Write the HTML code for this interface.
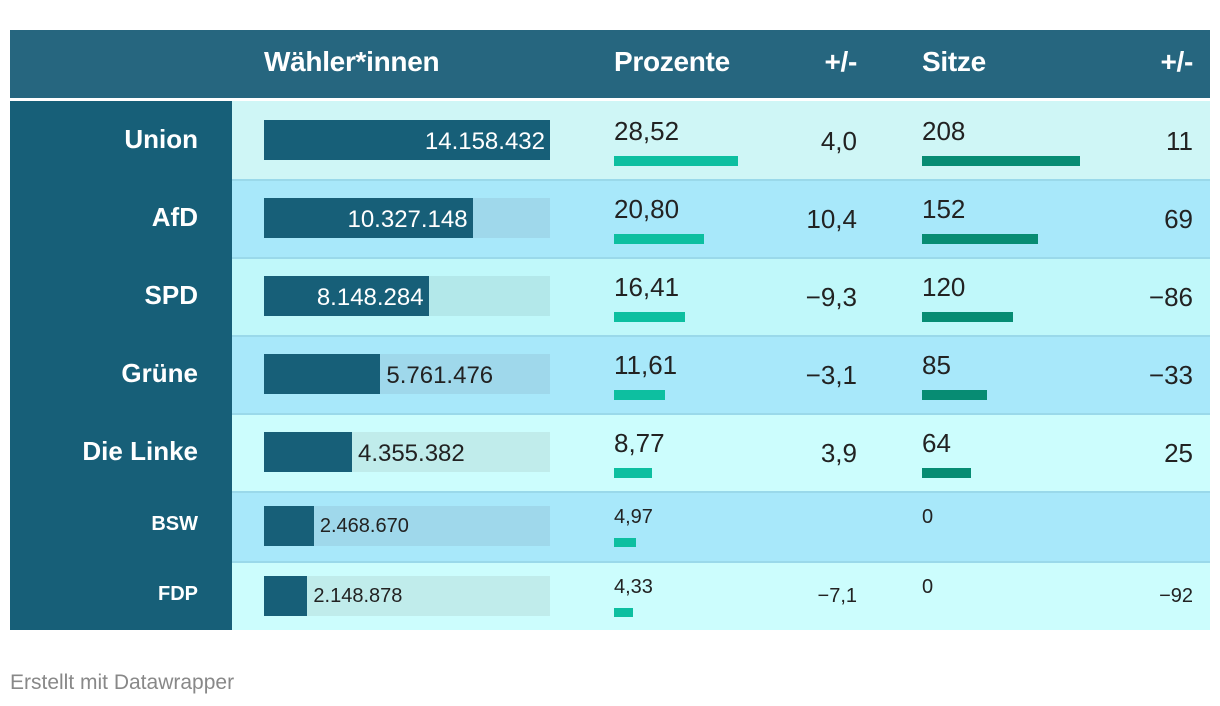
<!DOCTYPE html>
<html><head><meta charset="utf-8"><style>
body{margin:0;width:1220px;height:706px;background:#fff;font-family:"Liberation Sans",sans-serif;position:relative;overflow:hidden}
.a{position:absolute;white-space:nowrap}
</style></head><body>
<div id="root"></div>
<div class="a" style="left:10px;top:671px;font-size:21px;color:#888">Erstellt mit Datawrapper</div>
<script>
const parties=["Union","AfD","SPD","Grüne","Die Linke","BSW","FDP"];
const voters=[14158432,10327148,8148284,5761476,4355382,2468670,2148878];
const percents=[28.52,20.80,16.41,11.61,8.77,4.97,4.33];
const percentDiff=["4,0","10,4","−9,3","−3,1","3,9","","−7,1"];
const seats=[208,152,120,85,64,0,0];
const seatDiff=["11","69","−86","−33","25","","−92"];
const headers=["Wähler*innen","Prozente","+/-","Sitze","+/-"];

const root=document.getElementById('root');
function box(css,text){const d=document.createElement('div');d.className='a';d.style.cssText=css;if(text!==undefined)d.textContent=text;root.appendChild(d);return d;}
const fmt=n=>n.toString().replace(/\B(?=(\d{3})+(?!\d))/g,'.');
const xV=v=>v/14158432*286, xP=v=>v*4.35, xS=v=>v*0.76;

let h=box('left:10px;top:30px;width:1200px;height:68px;background:#26667f');

const hx=[[264,'l'],[614,'l'],[857,'r'],[922,'l'],[1193,'r']];
headers.forEach((t,i)=>{const [x,al]=hx[i];
 let e=box('top:46px;font-size:28px;font-weight:bold;color:#fff;letter-spacing:-0.3px;'+(al=='l'?'left:'+x+'px':'right:'+(1220-x)+'px'),t);
 
 });

const rowBg=['#cff6f6','#a8e8fa','#c0f8fa','#a8e8fa','#ccfdfd','#a8e8fa','#ccfdfd'];
const trackBg=['#cff6f6','#9fd8eb','#b3e8ea','#9fd8eb','#c0eceb','#9fd8eb','#c0eceb'];
const tops=[101,179,257,335,413,491,561],hts=[78,78,78,78,78,70,69];
parties.forEach((p,i)=>{
 const t=tops[i],H=hts[i],big=i<5,fs=big?26:20;
 let r=box(`left:10px;top:${t}px;width:1200px;height:${H}px;background:${rowBg[i]};border-top:${i?'2px solid #9ad9ea':'0'};box-sizing:border-box`);
 
 box(`left:10px;top:${t}px;width:222px;height:${H}px;background:#175f78`);
 let n=box(`right:${1220-198}px;top:${t+(big?23:22)}px;font-size:${big?26:20}px;font-weight:bold;color:#fff`,p);
 
 const by=t+(big?19:15);
 box(`left:264px;top:${by}px;width:286px;height:40px;background:${trackBg[i]}`);
 const w=xV(voters[i]);
 let b=box(`left:264px;top:${by}px;width:${w}px;height:40px;background:#175f78`);
 
 const inside=w>150;
 let vt=box(`top:${by+(big?8:9)}px;font-size:${big?24:20}px;color:${inside?'#fff':'#222'};`+(inside?`right:${1220-(264+w)+5}px`:`left:${264+w+6}px`),fmt(voters[i]));
 
 let pt=box(`left:614px;top:${t+(big?15:15)}px;font-size:${fs}px;color:#222`,percents[i].toFixed(2).replace('.',','));
 
 let pb=box(`left:614px;top:${t+(big?55:47)}px;width:${xP(percents[i])}px;height:${big?10:9}px;background:#0dbfa0`);
 
 let pd=box(`right:${1220-857}px;top:${t+(big?25:24)}px;font-size:${fs}px;color:#222`,percentDiff[i]);
 
 let st=box(`left:922px;top:${t+(big?15:15)}px;font-size:${fs}px;color:#222`,String(seats[i]));
 
 if(seats[i]>0){let sb=box(`left:922px;top:${t+55}px;width:${xS(seats[i])}px;height:10px;background:#078c73`);
 }
 let sd=box(`right:${1220-1193}px;top:${t+(big?25:24)}px;font-size:${fs}px;color:#222`,seatDiff[i]);
 
});
</script>
</body></html>
